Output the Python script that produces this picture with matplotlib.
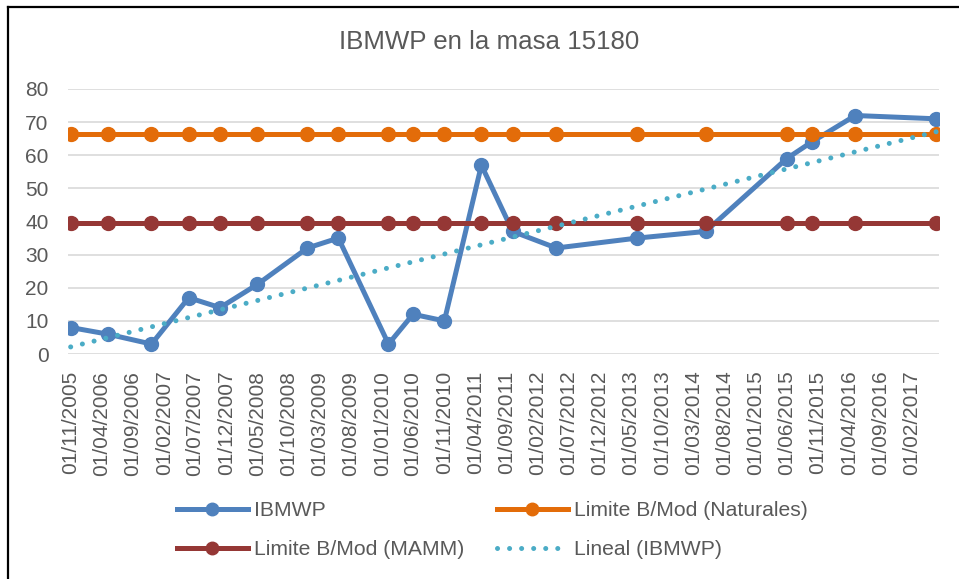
import matplotlib
matplotlib.use("Agg")
import matplotlib.pyplot as plt
import matplotlib.dates as mdates
from matplotlib.lines import Line2D
import numpy as np
import pandas as pd

plt.rcParams['font.family'] = ['Liberation Sans', 'DejaVu Sans']

title = "IBMWP en la masa 15180"
dates = ['2005-11-01', '2006-05-01', '2006-12-01', '2007-06-01', '2007-11-01',
         '2008-05-01', '2009-01-01', '2009-06-01', '2010-02-01', '2010-06-01',
         '2010-11-01', '2011-05-01', '2011-10-01', '2012-05-01', '2013-06-01',
         '2014-05-01', '2015-06-01', '2015-10-01', '2016-05-01', '2017-06-01']
ibmwp = [8, 6, 3, 17, 14, 21, 32, 35, 3, 12, 10, 57, 37, 32, 35, 37, 59, 64, 72, 71]
lim_naturales = 66.5
lim_mamm = 39.5
tick_dates = ['2005-11-01', '2006-04-01', '2006-09-01', '2007-02-01', '2007-07-01',
              '2007-12-01', '2008-05-01', '2008-10-01', '2009-03-01', '2009-08-01',
              '2010-01-01', '2010-06-01', '2010-11-01', '2011-04-01', '2011-09-01',
              '2012-02-01', '2012-07-01', '2012-12-01', '2013-05-01', '2013-10-01',
              '2014-03-01', '2014-08-01', '2015-01-01', '2015-06-01', '2015-11-01',
              '2016-04-01', '2016-09-01', '2017-02-01']
tick_labels = ['01/11/2005', '01/04/2006', '01/09/2006', '01/02/2007', '01/07/2007',
               '01/12/2007', '01/05/2008', '01/10/2008', '01/03/2009', '01/08/2009',
               '01/01/2010', '01/06/2010', '01/11/2010', '01/04/2011', '01/09/2011',
               '01/02/2012', '01/07/2012', '01/12/2012', '01/05/2013', '01/10/2013',
               '01/03/2014', '01/08/2014', '01/01/2015', '01/06/2015', '01/11/2015',
               '01/04/2016', '01/09/2016', '01/02/2017']
yticks = [0, 10, 20, 30, 40, 50, 60, 70, 80]
labels = ['IBMWP', 'Limite B/Mod (Naturales)', 'Limite B/Mod (MAMM)', 'Lineal (IBMWP)']

c_blue = '#4f81bd'
c_orange = '#e36c09'
c_maroon = '#953735'
c_teal = '#4bacc6'
c_text = '#595959'

W, H = 959, 579
fig = plt.figure(figsize=(W / 100, H / 100), dpi=100)
ax = fig.add_axes([68 / W, 1 - 354 / H, (939 - 68) / W, (354 - 89) / H])

x = pd.to_datetime(dates)
xn = mdates.date2num(x)

lw = 3.6
ms = 10
ax.plot(x, ibmwp, color=c_blue, lw=lw, marker='o', ms=ms, zorder=3,
        solid_joinstyle='round')
ax.plot(x, [lim_naturales] * len(x), color=c_orange, lw=lw, marker='o', ms=ms, zorder=4)
ax.plot(x, [lim_mamm] * len(x), color=c_maroon, lw=lw, marker='o', ms=ms, zorder=5)
coef = np.polyfit(xn, ibmwp, 1)
trend = np.polyval(coef, xn[[0, -1]])
ax.plot(x[[0, -1]], trend, color=c_teal, lw=3.6, linestyle=(0, (0.01, 2.4)),
        dash_capstyle='round', zorder=6)

ax.set_ylim(0, 80)
ax.set_xlim(xn[0] - 13, xn[-1] + 13)
ax.set_yticks(yticks)
ax.set_xticks(mdates.date2num(pd.to_datetime(tick_dates)))
ax.set_xticklabels(tick_labels, rotation=90)
ax.tick_params(axis='both', length=0, colors=c_text)
ax.tick_params(axis='x', pad=12, labelsize=15)
ax.tick_params(axis='y', pad=14, labelsize=15)
ax.grid(axis='y', color='#d9d9d9', lw=1.2)
ax.set_axisbelow(True)
for s in ax.spines.values():
    s.set_visible(False)

fig.text(489 / W, 1 - 42 / H, title, ha='center', va='center', fontsize=18.6, color=c_text)

h_blue = Line2D([], [], color=c_blue, lw=lw, marker='o', ms=9)
h_orange = Line2D([], [], color=c_orange, lw=lw, marker='o', ms=9)
h_maroon = Line2D([], [], color=c_maroon, lw=lw, marker='o', ms=9)
h_teal = Line2D([], [], color=c_teal, lw=3.6, linestyle=(0, (0.01, 2.4)), dash_capstyle='round')
leg = fig.legend([h_blue, h_maroon, h_orange, h_teal],
                 [labels[0], labels[2], labels[1], labels[3]],
                 ncol=2, loc='center left', bbox_to_anchor=(177 / W, 1 - 530 / H),
                 frameon=False, fontsize=15.2, handlelength=3.36, handletextpad=0.28,
                 columnspacing=1.56, labelspacing=0.95, numpoints=1,
                 labelcolor=c_text, borderaxespad=0, borderpad=0)

fig.add_artist(Line2D([8 / W, 8 / W], [0, 1 - 6.5 / H], color='black', lw=1.6,
                      transform=fig.transFigure))
fig.add_artist(Line2D([8 / W, 1], [1 - 6.5 / H, 1 - 6.5 / H], color='black', lw=1.6,
                      transform=fig.transFigure))

fig.savefig('out.png', dpi=100)
